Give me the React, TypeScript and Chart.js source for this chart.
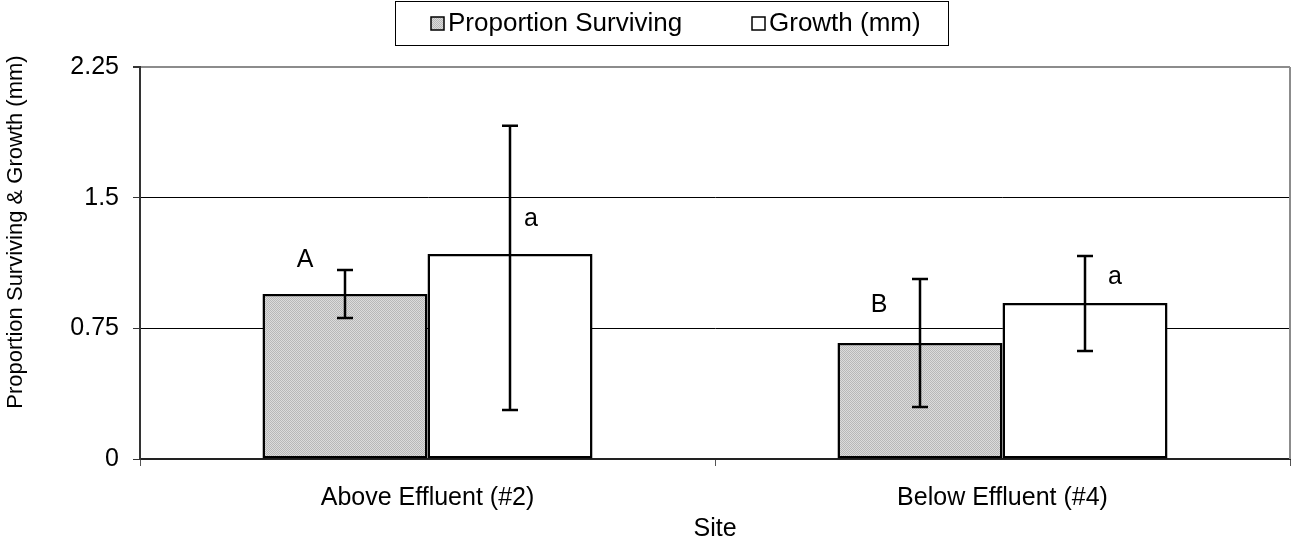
import React, { useEffect, useRef } from "react";
import { Chart, registerables } from "chart.js";

Chart.register(...registerables);

const categories = ["Above Effluent (#2)", "Below Effluent (#4)"];
const proportionSurviving = [0.947, 0.666];
const proportionLow = [0.809, 0.299];
const proportionHigh = [1.085, 1.033];
const growthMm = [1.177, 0.896];
const growthLow = [0.281, 0.62];
const growthHigh = [1.913, 1.165];
const proportionLetters = ["A", "B"];
const growthLetters = ["a", "a"];
const proportionLetterY = [1.142, 0.884];
const growthLetterY = [1.378, 1.045];
const yTicks = [0, 0.75, 1.5, 2.25];
const seriesNames = ["Proportion Surviving", "Growth (mm)"];
const yTitle = "Proportion Surviving & Growth (mm)";

const FONT = "'Liberation Sans', Arial, sans-serif";

function makePattern(): CanvasPattern | string {
  const c = document.createElement("canvas");
  c.width = 2;
  c.height = 2;
  const g = c.getContext("2d");
  if (!g) return "#cccccc";
  g.fillStyle = "#dcdcdc";
  g.fillRect(0, 0, 2, 2);
  g.fillStyle = "#b8b8b8";
  g.fillRect(0, 0, 1, 1);
  g.fillRect(1, 1, 1, 1);
  const p = g.createPattern(c, "repeat");
  return p || "#cccccc";
}

const lows = [proportionLow, growthLow];
const highs = [proportionHigh, growthHigh];
const letters = [proportionLetters, growthLetters];
const letterYs = [proportionLetterY, growthLetterY];
const letterDx = [[-40, 21], [-41, 30]]; // [category][series] pixel offsets (style)

const overlayPlugin = {
  id: "overlay",
  afterDatasetsDraw(chart: any) {
    const ctx = chart.ctx;
    const y = chart.scales.y;
    ctx.save();
    chart.data.datasets.forEach((_ds: any, di: number) => {
      const meta = chart.getDatasetMeta(di);
      meta.data.forEach((bar: any, i: number) => {
        const x = Math.round(bar.x);
        const yl = y.getPixelForValue(lows[di][i]);
        const yh = y.getPixelForValue(highs[di][i]);
        ctx.strokeStyle = "#000";
        ctx.lineWidth = 2.5;
        ctx.beginPath();
        ctx.moveTo(x, yl);
        ctx.lineTo(x, yh);
        ctx.moveTo(x - 8, yl);
        ctx.lineTo(x + 8, yl);
        ctx.moveTo(x - 8, yh);
        ctx.lineTo(x + 8, yh);
        ctx.stroke();
        ctx.fillStyle = "#000";
        ctx.font = `25px ${FONT}`;
        ctx.textAlign = "center";
        ctx.textBaseline = "middle";
        ctx.fillText(letters[di][i], x + letterDx[i][di], y.getPixelForValue(letterYs[di][i]));
      });
    });
    ctx.restore();
  },
  afterDraw(chart: any) {
    const ctx = chart.ctx;
    const a = chart.chartArea;
    ctx.save();
    // right border of plot area
    ctx.strokeStyle = "#8c8c8c";
    ctx.lineWidth = 2;
    ctx.beginPath();
    ctx.moveTo(a.right, a.top);
    ctx.lineTo(a.right, a.bottom);
    ctx.stroke();
    // y axis title
    ctx.save();
    ctx.translate(16, 232);
    ctx.rotate(-Math.PI / 2);
    ctx.font = `22px ${FONT}`;
    ctx.fillStyle = "#000";
    ctx.textAlign = "center";
    ctx.textBaseline = "middle";
    ctx.fillText(yTitle, 0, 0);
    ctx.restore();
    // legend
    ctx.strokeStyle = "#000";
    ctx.lineWidth = 1;
    ctx.strokeRect(395.5, 1.5, 553, 44);
    ctx.font = `26px ${FONT}`;
    ctx.textBaseline = "middle";
    ctx.textAlign = "left";
    const fills = [chart.data.datasets[0].backgroundColor, "#fff"];
    const xs = [431, 752];
    seriesNames.forEach((name, k) => {
      const sx = xs[k];
      ctx.fillStyle = fills[k];
      ctx.fillRect(sx, 17, 13, 13);
      ctx.lineWidth = 1.5;
      ctx.strokeStyle = "#000";
      ctx.strokeRect(sx, 17, 13, 13);
      ctx.fillStyle = "#000";
      ctx.fillText(name, sx + 17, 24);
    });
    ctx.restore();
  },
};

export default function App() {
  const ref = useRef<HTMLCanvasElement | null>(null);
  useEffect(() => {
    if (!ref.current) return;
    const pattern = makePattern();
    const chart = new Chart(ref.current, {
      type: "bar",
      data: {
        labels: categories,
        datasets: [
          {
            label: seriesNames[0],
            data: proportionSurviving,
            backgroundColor: pattern as any,
            borderColor: "#000",
            borderWidth: 2.5,
            borderSkipped: false,
            categoryPercentage: 0.574,
            barPercentage: 1,
          },
          {
            label: seriesNames[1],
            data: growthMm,
            backgroundColor: "#fff",
            borderColor: "#000",
            borderWidth: 2.5,
            borderSkipped: false,
            categoryPercentage: 0.574,
            barPercentage: 1,
          },
        ],
      },
      options: {
        responsive: false,
        animation: false,
        layout: { padding: { top: 67, right: 1, left: 0, bottom: 0 } },
        plugins: {
          legend: { display: false },
          tooltip: { enabled: false },
        },
        scales: {
          x: {
            grid: {
              offset: true,
              drawOnChartArea: false,
              tickLength: 7,
              tickColor: "#555",
            },
            border: { color: "#222", width: 2 },
            ticks: {
              color: "#000",
              font: { family: FONT, size: 25 },
              padding: 17,
            },
            title: {
              display: true,
              text: "Site",
              color: "#000",
              font: { family: FONT, size: 25 },
              padding: { top: 2, bottom: 0 },
            },
            afterFit(scale: any) {
              scale.height = 85;
            },
          },
          y: {
            min: 0,
            max: 2.25,
            afterBuildTicks(scale: any) {
              scale.ticks = yTicks.map((v) => ({ value: v }));
            },
            grid: {
              color: (c: any) =>
                c.tick && c.tick.value === 2.25 ? "#8c8c8c" : c.tick && c.tick.value === 0 ? "rgba(0,0,0,0)" : "#000",
              lineWidth: (c: any) => (c.tick && c.tick.value === 2.25 ? 2 : 1),
              tickLength: 7,
              tickColor: "#333",
            },
            border: { color: "#333", width: 2 },
            ticks: {
              color: "#000",
              font: { family: FONT, size: 25 },
              padding: 14,
              callback: (v: any) => String(v),
            },
            title: { display: false },
            afterFit(scale: any) {
              scale.width = 140;
            },
          },
        },
      },
      plugins: [overlayPlugin],
    });
    return () => chart.destroy();
  }, []);
  return (
    <div style={{ position: "fixed", left: 0, top: 0, width: 1291, height: 544, background: "#fff" }}>
      <canvas ref={ref} width={1291} height={544} style={{ width: 1291, height: 544 }} />
    </div>
  );
}
